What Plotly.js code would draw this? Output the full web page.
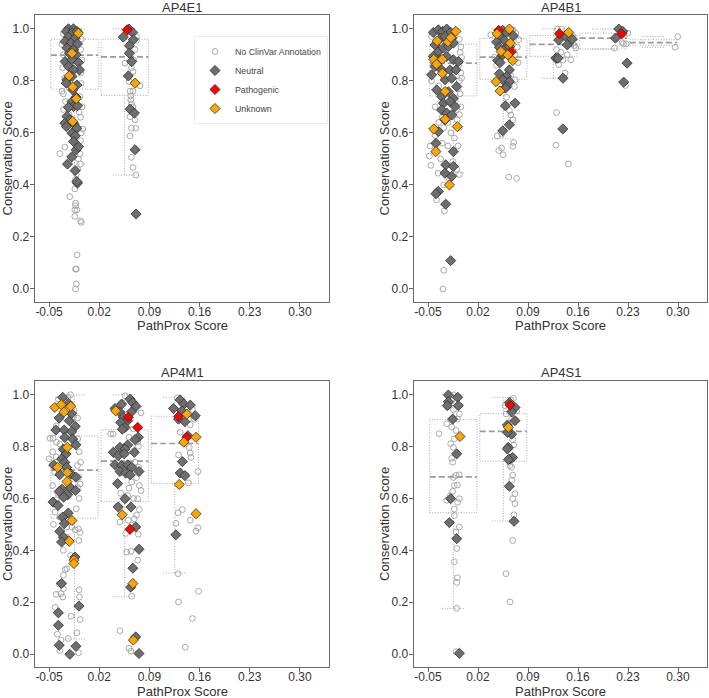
<!DOCTYPE html>
<html><head><meta charset="utf-8">
<script src="https://cdn.plot.ly/plotly-3.0.1.min.js"></script>
<style>html,body{margin:0;padding:0;background:#fff}#chart{width:709px;height:698px}</style>
</head><body><div id="chart"></div>
<script>
// ---------------- DATA ----------------
const X_TICKS = [-0.05, 0.02, 0.09, 0.16, 0.23, 0.30];
const X_TICK_TEXT = ['-0.05', '0.02', '0.09', '0.16', '0.23', '0.30'];
const Y_TICKS = [0, 0.2, 0.4, 0.6, 0.8, 1.0];
const Y_TICK_TEXT = ['0.0', '0.2', '0.4', '0.6', '0.8', '1.0'];
const CATEGORIES = ['No ClinVar Annotation', 'Neutral', 'Pathogenic', 'Unknown'];
const GENES = ['AP4E1', 'AP4B1', 'AP4M1', 'AP4S1'];
const X_TITLE = 'PathProx Score';
const Y_TITLE = 'Conservation Score';

// box statistics per PathProx bin
const E1_box_pos = [-0.0145, 0.0555];
const E1_box_lo  = [0.480, 0.438];
const E1_box_q1  = [0.768, 0.744];
const E1_box_med = [0.899, 0.892];
const E1_box_q3  = [0.960, 0.960];
const E1_box_hi  = [1.000, 1.000];

const B1_box_pos = [-0.0145, 0.0555, 0.1255, 0.1955, 0.2655];
const B1_box_lo  = [0.446, 0.577, 0.810, 0.923, 0.929];
const B1_box_q1  = [0.742, 0.806, 0.894, 0.922, 0.937];
const B1_box_med = [0.868, 0.891, 0.940, 0.964, 0.947];
const B1_box_q3  = [0.941, 0.963, 0.974, 0.983, 0.958];
const B1_box_hi  = [1.000, 1.000, 1.000, 0.999, 0.970];

const M1_box_pos = [-0.0145, 0.0555, 0.1255];
const M1_box_lo  = [0.058, 0.221, 0.313];
const M1_box_q1  = [0.524, 0.588, 0.658];
const M1_box_med = [0.709, 0.744, 0.812];
const M1_box_q3  = [0.841, 0.865, 0.917];
const M1_box_hi  = [0.999, 1.000, 0.990];

const S1_box_pos = [-0.0145, 0.0555];
const S1_box_lo  = [0.176, 0.513];
const S1_box_q1  = [0.545, 0.744];
const S1_box_med = [0.683, 0.859];
const S1_box_q3  = [0.905, 0.927];
const S1_box_hi  = [1.000, 0.990];

// points: [PathProx score, conservation score]
const E1_none = [[-0.030,0.98],[-0.008,0.99],[-0.005,0.96],[-0.032,0.94],[-0.006,0.92],[-0.030,0.90],[-0.004,0.88],[-0.031,0.85],[-0.006,0.83],[-0.028,0.81],[-0.005,0.79],[-0.032,0.76],[-0.030,0.75],[-0.007,0.74],[-0.027,0.72],[-0.004,0.70],[-0.030,0.69],[-0.008,0.68],[-0.022,0.67],[-0.006,0.66],[-0.003,0.615],[-0.005,0.60],[-0.012,0.63],[-0.028,0.545],[-0.035,0.52],[-0.006,0.57],[-0.007,0.52],[-0.009,0.50],[-0.006,0.48],[-0.010,0.46],[-0.012,0.44],[-0.013,0.42],[-0.014,0.385],[-0.021,0.355],[-0.013,0.33],[-0.013,0.32],[-0.014,0.304],[-0.011,0.304],[-0.014,0.279],[-0.006,0.262],[-0.005,0.256],[-0.011,0.131],[-0.013,0.076],[-0.012,0.077],[-0.012,0.019],[-0.013,0.0],[-0.024,0.785],[-0.020,0.70],
  [0.056,0.868],[0.065,0.85],[0.067,0.836],[0.062,0.797],[0.077,0.781],[0.063,0.76],[0.067,0.76],[0.064,0.742],[0.064,0.727],[0.065,0.711],[0.067,0.70],[0.065,0.618],[0.071,0.618],[0.063,0.588],[0.065,0.506],[0.067,0.467],[0.071,0.438],[0.070,0.65],[0.063,0.662],[0.072,0.97],[0.072,0.955],[0.063,0.90],[0.068,0.88],[0.058,0.985],[0.070,0.92]];
const E1_neu = [[-0.0229,1.0],[-0.0159,1.0],[-0.026,0.99],[-0.018,0.984],[-0.011,0.99],[-0.023,0.968],[-0.0136,0.964],[-0.0276,0.951],[-0.0196,0.945],[-0.0103,0.942],[-0.025,0.926],[-0.0159,0.919],[-0.0215,0.906],[-0.0122,0.900],[-0.0276,0.874],[-0.018,0.881],[-0.0089,0.870],[-0.0229,0.855],[-0.0075,0.842],[-0.0159,0.842],[-0.025,0.804],[-0.018,0.817],[-0.0112,0.784],[-0.026,0.791],[-0.017,0.765],[-0.0122,0.737],[-0.018,0.720],[-0.0159,0.701],[-0.0229,0.698],[-0.0103,0.704],[-0.025,0.663],[-0.0206,0.650],[-0.028,0.637],[-0.0257,0.624],[-0.0159,0.637],[-0.0112,0.618],[-0.018,0.599],[-0.0136,0.588],[-0.0159,0.567],[-0.0122,0.535],[-0.0089,0.547],[-0.0182,0.508],[-0.0243,0.480],[-0.0136,0.455],[-0.0103,0.407],[-0.0112,0.413],
  [0.0616,0.999],[0.0667,0.986],[0.0536,0.968],[0.0676,0.958],[0.062,0.935],[0.062,0.906],[0.0653,0.874],[0.0606,0.819],[0.063,0.691],[0.069,0.676],[0.070,0.535],[0.0714,0.288]];
const E1_path = [[0.059,0.996]];
const E1_unk = [[-0.018,0.906],[-0.022,0.819],[-0.017,0.776],[-0.012,0.731],[-0.017,0.644],[-0.009,0.983],[0.070,0.791]];

const B1_none = [[-0.045,0.97],[-0.012,0.99],[-0.006,0.96],[-0.004,0.93],[-0.005,0.91],[-0.003,0.89],[-0.007,0.86],[-0.004,0.83],[-0.006,0.80],[-0.003,0.81],[-0.008,0.77],[-0.005,0.75],[-0.042,0.86],[-0.045,0.80],[-0.035,0.78],[-0.040,0.70],[-0.012,0.72],[-0.030,0.66],[-0.010,0.69],[-0.022,0.64],[-0.028,0.62],[-0.018,0.60],[-0.013,0.58],[-0.006,0.62],[-0.009,0.65],[-0.035,0.64],[-0.040,0.59],[-0.047,0.549],[-0.048,0.511],[-0.046,0.475],[-0.038,0.53],[-0.032,0.50],[-0.036,0.445],[-0.030,0.56],[-0.022,0.55],[-0.008,0.55],[-0.006,0.44],[-0.010,0.46],[-0.020,0.42],[-0.028,0.40],[-0.038,0.342],[-0.027,0.30],[-0.028,0.072],[-0.029,0.0],[-0.015,0.49],[-0.006,0.67],[-0.004,0.70],
  [0.038,0.977],[0.069,0.996],[0.073,0.983],[0.077,0.958],[0.043,0.891],[0.072,0.804],[0.071,0.778],[0.060,0.737],[0.064,0.686],[0.066,0.669],[0.069,0.650],[0.053,0.595],[0.047,0.588],[0.070,0.563],[0.049,0.532],[0.053,0.542],[0.069,0.548],[0.055,0.516],[0.063,0.430],[0.074,0.425],[0.075,0.93],[0.072,0.90],[0.046,0.86],[0.066,0.82],[0.058,0.95],[0.076,0.87],
  [0.131,0.999],[0.137,0.999],[0.130,0.92],[0.136,0.91],[0.139,0.88],[0.150,0.942],[0.155,0.935],[0.157,0.926],[0.142,0.83],[0.130,0.678],[0.129,0.553],[0.1465,0.481],[0.133,0.862],[0.150,0.881],[0.145,0.90],[0.153,0.97],
  [0.211,0.926],[0.2236,0.942],[0.2273,0.942],[0.2297,0.983],[0.2264,0.782],[0.2217,0.947],
  [0.2997,0.970],[0.296,0.929]];
const B1_neu = [[-0.0425,0.986],[-0.0355,0.996],[-0.0295,0.990],[-0.0238,0.999],[-0.0182,0.986],[-0.0322,0.964],[-0.0262,0.970],[-0.0168,0.964],[-0.0402,0.938],[-0.0355,0.913],[-0.0285,0.926],[-0.0215,0.932],[-0.0145,0.945],[-0.0425,0.894],[-0.0332,0.881],[-0.0238,0.894],[-0.0145,0.881],[-0.0075,0.874],[-0.0402,0.855],[-0.0449,0.823],[-0.0309,0.842],[-0.0192,0.842],[-0.0108,0.842],[-0.0378,0.765],[-0.0262,0.804],[-0.0168,0.810],[-0.0098,0.778],[-0.0309,0.740],[-0.0215,0.758],[-0.0145,0.733],[-0.0285,0.714],[-0.0192,0.720],[-0.0122,0.701],[-0.0309,0.688],[-0.0238,0.676],[-0.0168,0.669],[-0.0262,0.650],[-0.0355,0.605],[-0.0389,0.560],[-0.0145,0.528],[-0.0252,0.477],[-0.0145,0.471],[-0.0262,0.445],[-0.0168,0.433],[-0.0355,0.375],[-0.0389,0.366],[-0.0252,0.326],[-0.0182,0.109],
  [0.0546,0.994],[0.0602,0.986],[0.0695,0.973],[0.0508,0.970],[0.0569,0.955],[0.0461,0.949],[0.0499,0.929],[0.0592,0.926],[0.0639,0.932],[0.0546,0.900],[0.0476,0.878],[0.0508,0.870],[0.0639,0.842],[0.0499,0.827],[0.0602,0.817],[0.0546,0.804],[0.0639,0.797],[0.0602,0.778],[0.0583,0.772],[0.0718,0.714],[0.0583,0.704],[0.0639,0.631],[0.0546,0.608],
  [0.133,0.957],[0.142,0.973],[0.152,0.960],[0.145,0.938],[0.129,0.887],[0.132,0.887],[0.139,0.810],[0.1387,0.615],
  [0.2171,0.999],[0.2227,0.990],[0.2124,0.964],[0.2287,0.868],[0.224,0.795]];
const B1_path = [[0.049,0.994],[0.0667,0.912],[0.134,0.981],[0.2213,0.981]];
const B1_unk = [[-0.011,0.99],[-0.037,0.953],[-0.022,0.95],[-0.018,0.966],[-0.042,0.883],[-0.030,0.883],[-0.038,0.864],[-0.030,0.829],[-0.026,0.759],[-0.026,0.652],[-0.009,0.624],[-0.042,0.615],[-0.039,0.528],[-0.020,0.400],
  [0.0639,0.999],[0.0466,0.981],[0.0653,0.945],[0.0522,0.913],[0.0616,0.900],[0.0686,0.878],[0.0452,0.797],[0.0508,0.761],
  [0.147,0.986]];

const M1_none = [[-0.050,0.753],[-0.0486,0.832],[-0.0444,0.832],[-0.0397,0.817],[-0.035,0.810],[-0.0234,0.990],[-0.0201,1.0],[-0.037,0.983],[-0.0252,0.939],[-0.016,0.913],[-0.0103,0.910],[-0.0103,0.727],[-0.0084,0.682],[-0.0066,0.656],[-0.0103,0.643],[-0.0397,0.595],[-0.0416,0.548],[-0.035,0.528],[-0.0252,0.490],[-0.0182,0.490],[-0.0136,0.479],[-0.0089,0.483],[-0.0066,0.469],[-0.0084,0.438],[-0.0262,0.451],[-0.0252,0.329],[-0.0276,0.326],[-0.030,0.304],[-0.0332,0.233],[-0.0308,0.220],[-0.030,0.252],[-0.0080,0.248],[-0.0075,0.220],[-0.0066,0.133],[-0.0192,0.146],[-0.0112,0.082],[-0.0383,0.077],[-0.0332,0.054],[-0.0234,0.060],[-0.035,0.013],[-0.0089,0.005],[-0.0416,0.180],[-0.0252,0.612],[-0.045,0.78],[-0.040,0.76],[-0.008,0.78],[-0.006,0.74],[-0.010,0.83],[-0.042,0.70],[-0.045,0.65],[-0.008,0.60],[-0.012,0.56],[-0.040,0.88],[-0.030,0.96],[-0.015,0.94],[-0.038,0.62],[-0.044,0.50],[-0.020,0.38],[-0.030,0.40],[-0.036,0.27],[-0.040,0.23],
  [0.056,0.996],[0.065,0.983],[0.0396,0.849],[0.036,0.849],[0.0676,0.868],[0.0616,0.836],[0.0746,0.801],[0.070,0.740],[0.0783,0.93],[0.076,0.650],[0.0783,0.631],[0.0616,0.640],[0.0653,0.663],[0.0597,0.611],[0.0737,0.599],[0.076,0.557],[0.072,0.535],[0.0489,0.509],[0.0606,0.516],[0.0653,0.497],[0.069,0.522],[0.0569,0.465],[0.0746,0.462],[0.0583,0.393],[0.0643,0.396],[0.0737,0.362],[0.0653,0.223],[0.0489,0.090],[0.0616,0.022],[0.0643,0.011],[0.055,0.80],[0.072,0.68],[0.050,0.62],[0.045,0.57],[0.068,0.60],[0.058,0.70],[0.075,0.72],[0.074,0.82],[0.067,0.058],
  [0.129,0.988],[0.150,0.943],[0.1446,0.906],[0.133,0.855],[0.147,0.884],[0.1455,0.797],[0.147,0.775],[0.148,0.758],[0.1306,0.768],[0.1577,0.704],[0.1446,0.660],[0.130,0.545],[0.136,0.557],[0.147,0.516],[0.1577,0.487],[0.155,0.474],[0.130,0.310],[0.1306,0.201],[0.1586,0.242],[0.150,0.137],[0.140,0.026],[0.127,0.504],[0.153,0.905],[0.141,0.690]];
const M1_neu = [[-0.031,0.990],[-0.023,0.967],[-0.0358,0.910],[-0.0405,0.864],[-0.0288,0.864],[-0.0218,0.900],[-0.0185,0.928],[-0.0134,0.878],[-0.0185,0.857],[-0.028,0.835],[-0.017,0.829],[-0.0125,0.807],[-0.030,0.790],[-0.0264,0.771],[-0.0325,0.752],[-0.028,0.739],[-0.0435,0.729],[-0.035,0.692],[-0.0255,0.720],[-0.0194,0.694],[-0.0125,0.682],[-0.0321,0.636],[-0.0358,0.627],[-0.024,0.614],[-0.020,0.641],[-0.013,0.631],[-0.0297,0.605],[-0.0444,0.586],[-0.0374,0.573],[-0.0232,0.544],[-0.031,0.528],[-0.0288,0.503],[-0.035,0.473],[-0.030,0.451],[-0.0325,0.432],[-0.0138,0.374],[-0.0325,0.272],[-0.037,0.159],[-0.037,0.111],[-0.0358,0.034],[-0.021,-0.001],[-0.0125,0.030],[-0.0083,0.185],
  [0.063,0.983],[0.0513,0.964],[0.0667,0.970],[0.0713,0.955],[0.042,0.947],[0.049,0.932],[0.065,0.934],[0.0536,0.913],[0.0597,0.900],[0.050,0.893],[0.056,0.874],[0.0522,0.867],[0.0746,0.836],[0.070,0.827],[0.049,0.797],[0.0597,0.806],[0.056,0.791],[0.0396,0.778],[0.0466,0.765],[0.055,0.772],[0.069,0.778],[0.042,0.730],[0.0513,0.727],[0.0597,0.730],[0.0653,0.720],[0.049,0.704],[0.0569,0.698],[0.063,0.691],[0.0755,0.704],[0.0457,0.657],[0.056,0.599],[0.0466,0.567],[0.0643,0.567],[0.0709,0.490],[0.0755,0.404],[0.067,0.331],[0.0639,0.258],[0.0709,0.066],[0.0755,0.002],
  [0.1236,0.947],[0.133,0.980],[0.138,0.964],[0.147,0.960],[0.1353,0.938],[0.1306,0.906],[0.154,0.919],[0.1395,0.896],[0.1437,0.842],[0.136,0.742],[0.133,0.698],[0.1395,0.688],[0.127,0.460]];
const M1_path = [[0.0606,0.913],[0.0737,0.874],[0.063,0.481],[0.1306,0.916],[0.1423,0.836]];
const M1_unk = [[-0.042,0.951],[-0.033,0.962],[-0.0197,0.955],[-0.029,0.934],[-0.0246,0.797],[-0.038,0.720],[-0.0246,0.700],[-0.025,0.665],[-0.018,0.515],[-0.0218,0.435],[-0.0153,0.362],[-0.0153,0.349],
  [0.043,0.938],[0.052,0.537],[0.067,0.272],[0.0676,0.054],
  [0.1423,0.925],[0.155,0.836],[0.138,0.817],[0.1316,0.654],[0.155,0.541]];

const S1_none = [[-0.0145,0.999],[-0.0168,0.977],[-0.0145,0.942],[-0.0061,0.926],[-0.0238,0.888],[-0.0168,0.876],[-0.0346,0.850],[-0.0108,0.862],[-0.0131,0.830],[-0.0183,0.811],[-0.0145,0.797],[-0.0168,0.755],[-0.0155,0.740],[-0.0108,0.689],[-0.0061,0.691],[-0.0145,0.681],[-0.0131,0.650],[-0.0089,0.652],[-0.0155,0.627],[-0.0061,0.599],[-0.0238,0.593],[-0.0085,0.585],[-0.0131,0.559],[-0.0131,0.534],[-0.0061,0.490],[-0.0108,0.471],[-0.0098,0.407],[-0.0131,0.356],[-0.0089,0.294],[-0.0098,0.276],[-0.0098,0.176],[-0.0108,0.009],[-0.0089,0.906],[-0.019,0.61],
  [0.0578,0.958],[0.0695,0.986],[0.0592,0.926],[0.0671,0.906],[0.0685,0.827],[0.0648,0.727],[0.0685,0.690],[0.0671,0.670],[0.0718,0.618],[0.0685,0.599],[0.0718,0.580],[0.0704,0.537],[0.0685,0.438],[0.0592,0.310],[0.0648,0.201],[0.066,0.978],[0.074,0.937],[0.064,0.867],[0.070,0.806],[0.067,0.720]];
const S1_neu = [[-0.0215,0.999],[-0.0084,0.990],[-0.0215,0.973],[-0.023,0.958],[-0.0075,0.958],[-0.0155,0.906],[-0.0098,0.772],[-0.0183,0.599],[-0.0201,0.507],[-0.0098,0.445],[-0.0061,0.003],
  [0.0639,0.970],[0.0718,0.951],[0.0671,0.934],[0.0718,0.900],[0.0611,0.883],[0.0671,0.848],[0.0611,0.855],[0.0625,0.797],[0.0611,0.791],[0.0648,0.752],[0.0685,0.758],[0.0625,0.750],[0.0639,0.647],[0.0704,0.512]];
const S1_path = [[0.0648,0.960]];
const S1_unk = [[-0.0052,0.839],[0.0625,0.874]];

// ---------------- BUILD ----------------
const FONT = 'Liberation Sans, Arial, sans-serif';
const TXT = '#333333';
const panels = [
  {gene: GENES[0], xa:'x',  ya:'y',  box:[E1_box_pos,E1_box_lo,E1_box_q1,E1_box_med,E1_box_q3,E1_box_hi], pts:[E1_none,E1_neu,E1_path,E1_unk]},
  {gene: GENES[1], xa:'x2', ya:'y2', box:[B1_box_pos,B1_box_lo,B1_box_q1,B1_box_med,B1_box_q3,B1_box_hi], pts:[B1_none,B1_neu,B1_path,B1_unk]},
  {gene: GENES[2], xa:'x3', ya:'y3', box:[M1_box_pos,M1_box_lo,M1_box_q1,M1_box_med,M1_box_q3,M1_box_hi], pts:[M1_none,M1_neu,M1_path,M1_unk]},
  {gene: GENES[3], xa:'x4', ya:'y4', box:[S1_box_pos,S1_box_lo,S1_box_q1,S1_box_med,S1_box_q3,S1_box_hi], pts:[S1_none,S1_neu,S1_path,S1_unk]}
];

const BOX_HALF = 0.033, CAP_HALF = 0.016;
const traces = [];
panels.forEach(p => {
  const [pos, lo, q1, med, q3, hi] = p.box;
  const x = [], y = [], mx = [], my = [];
  pos.forEach((c, i) => {
    x.push(c-BOX_HALF, c+BOX_HALF, c+BOX_HALF, c-BOX_HALF, c-BOX_HALF, null);
    y.push(q1[i], q1[i], q3[i], q3[i], q1[i], null);
    x.push(c, c, null, c, c, null);
    y.push(q3[i], hi[i], null, q1[i], lo[i], null);
    x.push(c-CAP_HALF, c+CAP_HALF, null, c-CAP_HALF, c+CAP_HALF, null);
    y.push(hi[i], hi[i], null, lo[i], lo[i], null);
    mx.push(c-BOX_HALF, c+BOX_HALF, null);
    my.push(med[i], med[i], null);
  });
  traces.push({type:'scatter', mode:'lines', x, y, xaxis:p.xa, yaxis:p.ya, showlegend:false, hoverinfo:'skip',
    line:{color:'#a9a9a9', width:1, dash:'1px,1.6px'}});
  traces.push({type:'scatter', mode:'lines', x:mx, y:my, xaxis:p.xa, yaxis:p.ya, showlegend:false, hoverinfo:'skip',
    line:{color:'#9c9c9c', width:1.7, dash:'6px,3px'}});
});

const MARKERS = [
  {symbol:'circle', size:5.8, color:'rgba(255,255,255,0)', line:{color:'#a0a0a0', width:0.9}},
  {symbol:'diamond', size:7.8, color:'#6e6e6e', line:{color:'#2e2e2e', width:0.8}},
  {symbol:'diamond', size:7.8, color:'#ff0000', line:{color:'#2e2e2e', width:0.8}},
  {symbol:'diamond', size:7.8, color:'#ffa500', line:{color:'#2e2e2e', width:0.8}}
];
panels.forEach((p, pi) => {
  p.pts.forEach((arr, ci) => {
    traces.push({type:'scatter', mode:'markers', name:CATEGORIES[ci], legendgroup:CATEGORIES[ci],
      showlegend: pi === 0, x:arr.map(d=>d[0]), y:arr.map(d=>d[1]), xaxis:p.xa, yaxis:p.ya,
      marker:MARKERS[ci], hoverinfo:'skip'});
  });
});

const W = 709, H = 698;
const colX = [[35/W, 329/W], [414/W, 707/W]];
const rowY = [[1-302/H, 1-15/H], [1-667/H, 1-381/H]];

function xax(dom, anchor){
  return {domain:dom, anchor:anchor, range:[-0.0696, 0.3406], tickmode:'array', tickvals:X_TICKS, ticktext:X_TICK_TEXT,
    ticks:'outside', ticklen:4, tickwidth:1, tickcolor:'#666', showline:true, mirror:true, linecolor:'#6a6a6a', linewidth:1.3,
    showgrid:false, zeroline:false, tickfont:{family:FONT, size:12, color:TXT}, ticklabelstandoff:-6};
}
function yax(dom, anchor){
  return {domain:dom, anchor:anchor, range:[-0.05, 1.053], tickmode:'array', tickvals:Y_TICKS, ticktext:Y_TICK_TEXT,
    ticks:'outside', ticklen:4, tickwidth:1, tickcolor:'#666', showline:true, mirror:true, linecolor:'#6a6a6a', linewidth:1.3,
    showgrid:false, zeroline:false, tickfont:{family:FONT, size:12, color:TXT}, ticklabelstandoff:-2};
}

const annotations = [];
const yTitleX = [7/W, 384/W];
const xTitleY = [1-326/H, 1-691/H];
const geneY = [1-8/H, 1-372/H];
panels.forEach((p, pi) => {
  const c = pi % 2, r = Math.floor(pi / 2);
  const cx = (colX[c][0]+colX[c][1])/2, cy = (rowY[r][0]+rowY[r][1])/2;
  annotations.push({text:p.gene, xref:'paper', yref:'paper', x:cx, y:geneY[r], yanchor:'middle', xanchor:'center',
    showarrow:false, font:{family:FONT, size:13, color:TXT}});
  annotations.push({text:X_TITLE, xref:'paper', yref:'paper', x:cx, y:xTitleY[r], yanchor:'middle', xanchor:'center',
    showarrow:false, font:{family:FONT, size:13, color:TXT}});
  annotations.push({text:Y_TITLE, xref:'paper', yref:'paper', x:yTitleX[c], y:cy, yanchor:'middle', xanchor:'center',
    textangle:-90, showarrow:false, font:{family:FONT, size:13, color:TXT}});
});

const layout = {
  width:W, height:H, margin:{l:0, r:0, t:0, b:0}, paper_bgcolor:'#fff', plot_bgcolor:'#fff',
  font:{family:FONT, color:TXT},
  xaxis: xax(colX[0], 'y'),  yaxis: yax(rowY[0], 'x'),
  xaxis2: xax(colX[1], 'y2'), yaxis2: yax(rowY[0], 'x2'),
  xaxis3: xax(colX[0], 'y3'), yaxis3: yax(rowY[1], 'x3'),
  xaxis4: xax(colX[1], 'y4'), yaxis4: yax(rowY[1], 'x4'),
  showlegend:true,
  legend:{x:194/W, y:1-36/H, xanchor:'left', yanchor:'top', bgcolor:'#fff', bordercolor:'#ececec', borderwidth:1,
    font:{family:FONT, size:8.8, color:'#444'}, itemwidth:30, tracegroupgap:0},
  annotations: annotations
};

Plotly.newPlot('chart', traces, layout, {displayModeBar:false, staticPlot:true});
</script>
</body></html>
